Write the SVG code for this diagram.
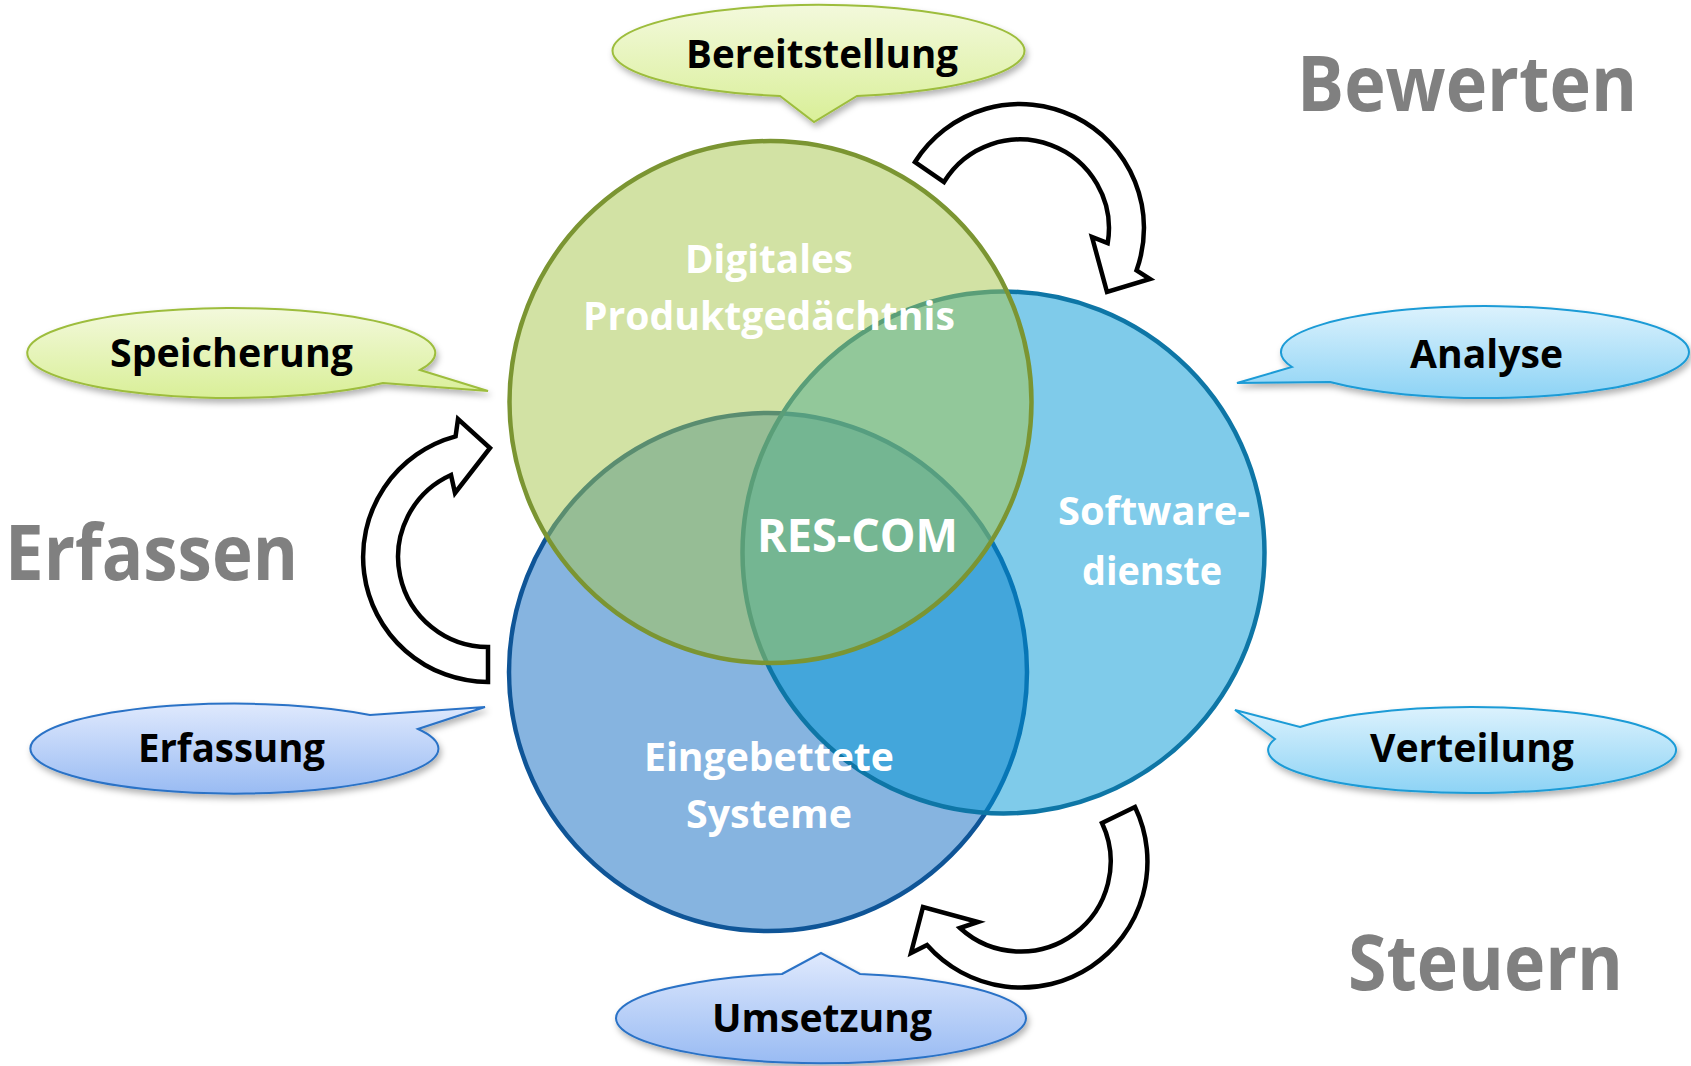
<svg xmlns="http://www.w3.org/2000/svg" width="1691" height="1066" viewBox="0 0 1691 1066">
<defs>
<linearGradient id="gGreen" x1="0" y1="0" x2="0" y2="1"><stop offset="0" stop-color="#f3f9dc"/><stop offset="1" stop-color="#d9ef98"/></linearGradient>
<linearGradient id="gCyan" x1="0" y1="0" x2="0" y2="1"><stop offset="0" stop-color="#dcf2fd"/><stop offset="1" stop-color="#8dd3f5"/></linearGradient>
<linearGradient id="gBlue" x1="0" y1="0" x2="0" y2="1"><stop offset="0" stop-color="#dfe9fd"/><stop offset="1" stop-color="#99bbf3"/></linearGradient>
<filter id="shadow" x="-10%" y="-20%" width="120%" height="150%"><feDropShadow dx="2" dy="4" stdDeviation="3" flood-color="#000" flood-opacity="0.3"/></filter>
<style>
.bub{stroke-width:2;filter:url(#shadow)}
.bg{fill:url(#gGreen);stroke:#9dbd3c}
.bc{fill:url(#gCyan);stroke:#1b9bd6}
.bb{fill:url(#gBlue);stroke:#2a72c6}
.lbl{font-family:"Open Sans","Noto Sans",sans-serif;font-weight:bold;font-size:40px;fill:#000;text-anchor:middle}
.big{font-family:"Open Sans","Noto Sans",sans-serif;font-weight:bold;font-size:77px;fill:#808080;text-anchor:middle}
.cl{font-family:"Open Sans","Noto Sans",sans-serif;font-weight:bold;font-size:40px;fill:#fff;text-anchor:middle}
.arr{fill:#fff;stroke:#000;stroke-width:4.5;stroke-linejoin:miter}
</style>
</defs>
<rect width="1691" height="1066" fill="#fff"/>

<g id="circles">
<g id="eingebettete-systeme"><circle cx="768" cy="672" r="259" fill="rgb(13,105,193)" fill-opacity="0.5" stroke="#0f5597" stroke-width="4.5"/></g>
<g id="softwaredienste"><circle cx="1003.5" cy="552.5" r="261" fill="rgb(0,151,213)" fill-opacity="0.5" stroke="#0e76a6" stroke-width="4.5"/></g>
<g id="produktgedaechtnis"><circle cx="770.5" cy="402" r="261" fill="rgb(165,197,73)" fill-opacity="0.5" stroke="#7b9532" stroke-width="4.5"/></g>
</g>

<g id="circle-labels">
<text class="cl" x="769" y="273" textLength="168" lengthAdjust="spacingAndGlyphs">Digitales</text>
<text class="cl" x="769" y="330" textLength="372" lengthAdjust="spacingAndGlyphs">Produktgedächtnis</text>
<text class="cl" x="857.5" y="552" style="font-size:47px" textLength="201" lengthAdjust="spacingAndGlyphs">RES-COM</text>
<text class="cl" x="1154" y="525" textLength="192" lengthAdjust="spacingAndGlyphs">Software-</text>
<text class="cl" x="1152" y="585" textLength="140" lengthAdjust="spacingAndGlyphs">dienste</text>
<text class="cl" x="769" y="771" textLength="250" lengthAdjust="spacingAndGlyphs">Eingebettete</text>
<text class="cl" x="769" y="828" textLength="166" lengthAdjust="spacingAndGlyphs">Systeme</text>
</g>

<g id="connectors">
<path id="arrow-bewerten" class="arr" d="M915,162 A124,124 0 0 1 1136.5,270.4 L1150,279 L1107,292 L1092,237 L1107.7,243.1 A89,89 0 0 0 944,182 Z"/>
<path id="arrow-erfassen" class="arr" d="M488,682 A125,125 0 0 1 455.6,436.3 L458,419 L490,448 L455,493 L451,475 A90,90 0 0 0 488,647 Z"/>
<path id="arrow-steuern" class="arr" d="M1135,807 A126,126 0 0 1 927,945 L911,953 L923,907 L978,922 L960,928 A90,90 0 0 0 1102,823 Z"/>
</g>

<g id="bubble-bereitstellung">
<path class="bub bg" d="M780,96 A206,46 0 1 1 857,96 L814,122 Z"/>
<text class="lbl" x="822" y="68" textLength="272" lengthAdjust="spacingAndGlyphs">Bereitstellung</text>
</g>
<g id="bubble-speicherung">
<path class="bub bg" d="M420,370 L488,391 L383,383 A204,45 0 1 1 420,370 Z"/>
<text class="lbl" x="231.5" y="367" textLength="243" lengthAdjust="spacingAndGlyphs">Speicherung</text>
</g>
<g id="bubble-analyse">
<path class="bub bc" d="M1330,382 L1237,383 L1292,367 A204,46 0 1 1 1330,382 Z"/>
<text class="lbl" x="1486.5" y="368" textLength="153" lengthAdjust="spacingAndGlyphs">Analyse</text>
</g>
<g id="bubble-erfassung">
<path class="bub bb" d="M370,715 L485,707 L418,729 A204,45 0 1 1 370,715 Z"/>
<text class="lbl" x="231.5" y="762" textLength="187" lengthAdjust="spacingAndGlyphs">Erfassung</text>
</g>
<g id="bubble-verteilung">
<path class="bub bc" d="M1275,739 L1235,710 L1300,727 A204,43 0 1 1 1275,739 Z"/>
<text class="lbl" x="1472" y="762" textLength="204" lengthAdjust="spacingAndGlyphs">Verteilung</text>
</g>
<g id="bubble-umsetzung">
<path class="bub bb" d="M782,974 L821,953 L860,974 A205,45 0 1 1 782,974 Z"/>
<text class="lbl" x="822" y="1032" textLength="220" lengthAdjust="spacingAndGlyphs">Umsetzung</text>
</g>

<g id="phase-labels">
<text class="big" x="1467" y="111" textLength="340" lengthAdjust="spacingAndGlyphs">Bewerten</text>
<text class="big" x="151.5" y="580" textLength="293" lengthAdjust="spacingAndGlyphs">Erfassen</text>
<text class="big" x="1485.5" y="990" textLength="275" lengthAdjust="spacingAndGlyphs">Steuern</text>
</g>
</svg>
